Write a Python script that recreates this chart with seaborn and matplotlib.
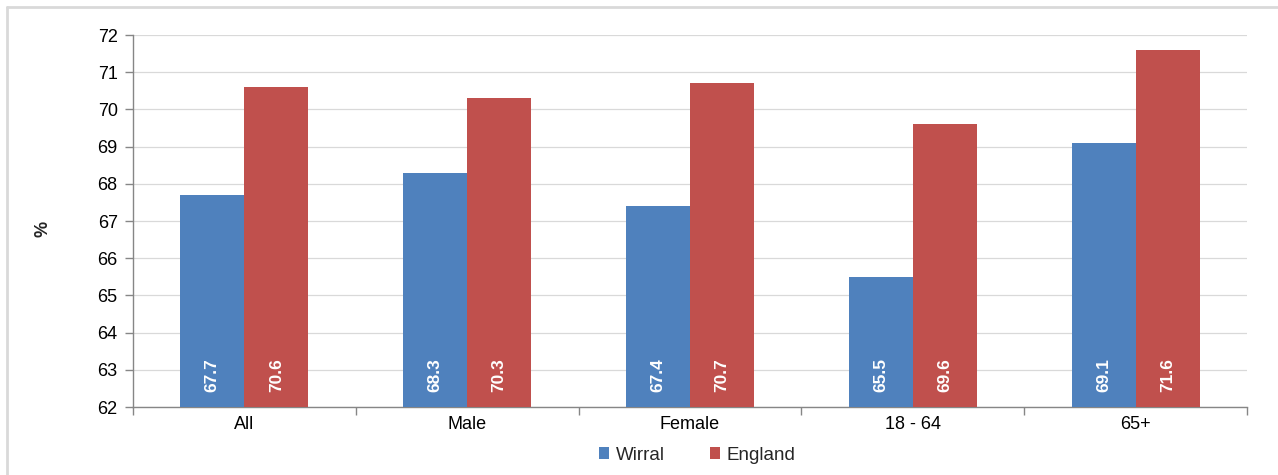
import matplotlib
matplotlib.use("Agg")
import matplotlib.pyplot as plt
from matplotlib.lines import Line2D
from matplotlib.patches import Patch
import numpy as np
import pandas as pd
import seaborn as sns

# Data
categories = ["All", "Male", "Female", "18 - 64", "65+"]
wirral = [67.7, 68.3, 67.4, 65.5, 69.1]
england = [70.6, 70.3, 70.7, 69.6, 71.6]
series_names = ["Wirral", "England"]
series_colors = ["#4F81BD", "#C0504D"]
y_ticks = [62, 63, 64, 65, 66, 67, 68, 69, 70, 71, 72]

df = pd.DataFrame({
    "group": categories * 2,
    "area": [series_names[0]] * len(categories) + [series_names[1]] * len(categories),
    "value": wirral + england,
})

sns.set_style("white")
plt.rcParams["font.family"] = ["Liberation Sans", "DejaVu Sans"]

fig = plt.figure(figsize=(12.78, 4.75), dpi=100)
W, H = 1278, 475
ax = fig.add_axes([133 / W, 1 - 407 / H, (1247 - 133) / W, (407 - 35) / H])

sns.barplot(
    data=df, x="group", y="value", hue="area",
    order=categories, hue_order=series_names,
    palette=series_colors, width=0.575, gap=0,
    saturation=1, ax=ax, legend=False, zorder=3,
    edgecolor="none", linewidth=0,
)

ax.set_ylim(y_ticks[0], y_ticks[-1])
ax.set_xlim(-0.5, len(categories) - 0.5)
ax.set_yticks(y_ticks)
ax.yaxis.grid(True, color="#D9D9D9", linewidth=0.9, zorder=0)
ax.xaxis.grid(False)
ax.set_axisbelow(True)

# Value labels inside bars, near the base
for container, values in zip(ax.containers, [wirral, england]):
    for patch, v in zip(container.patches, values):
        cx = patch.get_x() + patch.get_width() / 2
        ax.text(cx, y_ticks[0] + 0.4, f"{v:.1f}", rotation=90,
                ha="center", va="bottom", color="white",
                fontsize=12.5, fontweight="bold", zorder=4)

# Spines and ticks
for side in ["top", "right"]:
    ax.spines[side].set_visible(False)
for side in ["left", "bottom"]:
    ax.spines[side].set_color("#868686")
    ax.spines[side].set_linewidth(1.0)

ax.tick_params(axis="y", which="major", left=True, length=6, width=1,
               color="#868686", labelsize=13, labelcolor="#000000", pad=5)
ax.set_xticks(range(len(categories)))
ax.set_xticklabels(categories)
ax.tick_params(axis="x", which="major", bottom=False, labelsize=13,
               labelcolor="#000000", pad=3)
ax.set_xticks(np.arange(-0.5, len(categories), 1.0), minor=True)
ax.tick_params(axis="x", which="minor", bottom=True, length=6, width=1,
               color="#868686")

ax.set_xlabel("")
ax.set_ylabel("%", fontsize=13, fontweight="bold", rotation=90)
ax.yaxis.set_label_coords((52 - 133) / (1247 - 133), 0.48)

# Legend below the chart
handles = [Patch(facecolor=c, edgecolor="none") for c in series_colors]
fig.legend(handles, series_names, loc="center",
           bbox_to_anchor=(697 / W, 1 - 455 / H), ncol=2, frameon=False,
           fontsize=13.5, handlelength=0.55, handleheight=0.55,
           handletextpad=0.35, columnspacing=2.4)

# Outer chart-area frame
frame_kw = dict(color="#D9D9D9", linewidth=2.0, transform=fig.transFigure)
fig.add_artist(Line2D([7 / W, 1.0], [1 - 7 / H, 1 - 7 / H], **frame_kw))
fig.add_artist(Line2D([7 / W, 7 / W], [0.0, 1 - 7 / H], **frame_kw))

fig.savefig("out.png", dpi=100)
